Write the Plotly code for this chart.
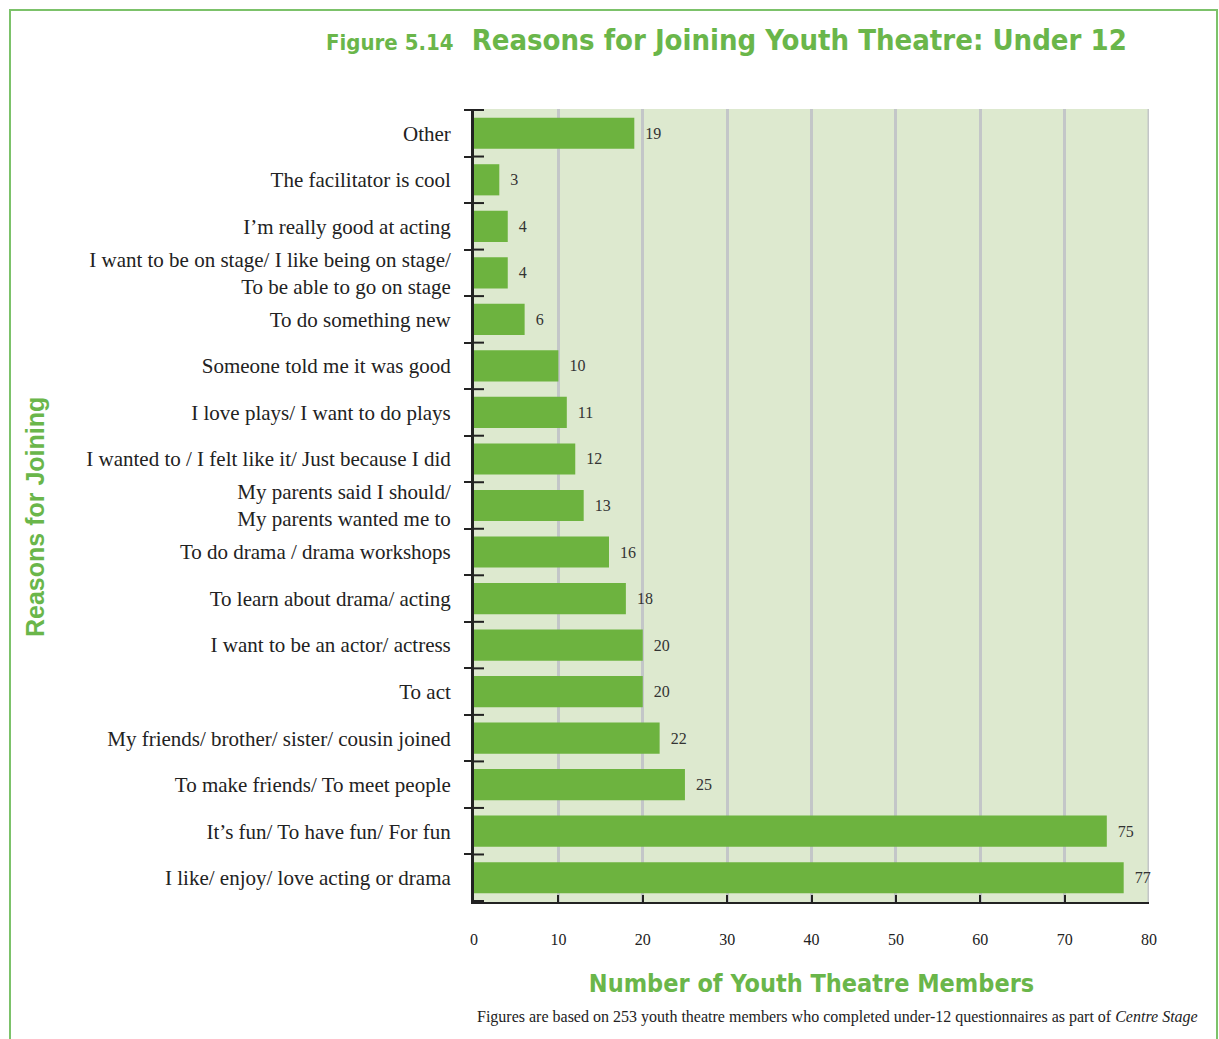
import plotly.graph_objects as go

# Reasons, listed top to bottom as shown on the chart
reasons = [
    "Other",
    "The facilitator is cool",
    "I\u2019m really good at acting",
    "I want to be on stage/ I like being on stage/<br>To be able to go on stage",
    "To do something new",
    "Someone told me it was good",
    "I love plays/ I want to do plays",
    "I wanted to / I felt like it/ Just because I did",
    "My parents said I should/<br>My parents wanted me to",
    "To do drama / drama workshops",
    "To learn about drama/ acting",
    "I want to be an actor/ actress",
    "To act",
    "My friends/ brother/ sister/ cousin joined",
    "To make friends/ To meet people",
    "It\u2019s fun/ To have fun/ For fun",
    "I like/ enjoy/ love acting or drama",
]
members = [19, 3, 4, 4, 6, 10, 11, 12, 13, 16, 18, 20, 20, 22, 25, 75, 77]
x_ticks = [0, 10, 20, 30, 40, 50, 60, 70, 80]

GREEN = "#6db33f"
TITLE_GREEN = "#6ab64a"
SERIF = "Liberation Serif, DejaVu Serif, serif"
NARROW = "Liberation Sans Narrow, DejaVu Sans Condensed, Arial Narrow, sans-serif"

W, H = 1219, 1039
L, R, T, B = 474, 70, 109, 137
pw, ph = W - L - R, H - T - B

def px_x(p):
    return (p - L) / pw

def px_y(p):
    return (H - B - p) / ph

fig = go.Figure(
    go.Bar(
        x=members,
        y=reasons,
        orientation="h",
        marker=dict(color=GREEN, line=dict(width=0)),
        text=[str(v) for v in members],
        texttemplate="  %{text}",
        textposition="outside",
        textfont=dict(family=SERIF, size=16, color="#333333"),
        cliponaxis=False,
        hoverinfo="skip",
    )
)

fig.update_layout(
    width=W,
    height=H,
    margin=dict(l=L, r=R, t=T, b=B, pad=0),
    paper_bgcolor="white",
    plot_bgcolor="#dde9cf",
    bargap=0.33,
    showlegend=False,
    font=dict(family=SERIF, color="#222222"),
)

fig.update_yaxes(
    type="category",
    categoryorder="array",
    categoryarray=reasons,
    autorange="reversed",
    tickfont=dict(family=SERIF, size=21, color="#222222"),
    ticks="outside",
    tickson="boundaries",
    ticklen=7,
    tickwidth=2,
    tickcolor="#222222",
    ticklabelstandoff=16,
    showline=True,
    linecolor="#222222",
    linewidth=3,
    showgrid=False,
    zeroline=False,
)

fig.update_xaxes(
    range=[0, 80],
    tickvals=x_ticks,
    ticktext=[str(v) for v in x_ticks],
    tickfont=dict(family=SERIF, size=16, color="#222222"),
    ticks="inside",
    ticklen=7,
    tickwidth=2,
    tickcolor="#222222",
    ticklabelstandoff=22,
    showline=True,
    linecolor="#222222",
    linewidth=2,
    showgrid=True,
    gridcolor="#c3c6c8",
    gridwidth=3,
    zeroline=False,
    title=dict(
        text="Number of Youth Theatre Members",
        font=dict(family=NARROW, size=25, color=TITLE_GREEN, weight="bold"),
        standoff=27,
    ),
)

# Grid line on the right edge of the plot area
fig.add_shape(
    type="line", xref="x", yref="paper",
    x0=80, x1=80, y0=0, y1=1,
    line=dict(color="#c3c6c8", width=3), layer="below",
)

# Inner half of the category boundary ticks on the y axis
for i in range(len(reasons) + 1):
    fig.add_shape(
        type="line", xref="paper", yref="y",
        x0=0, x1=px_x(L + 10), y0=i - 0.5, y1=i - 0.5,
        line=dict(color="#222222", width=2), layer="above",
    )

# Frame around the figure
fig.add_shape(
    type="path", xref="paper", yref="paper",
    path=f"M {px_x(10)} {px_y(H + 20)} L {px_x(10)} {px_y(10)} L {px_x(1217)} {px_y(10)} L {px_x(1217)} {px_y(H + 20)}",
    line=dict(color="#7cc26a", width=2),
)

fig.add_annotation(
    xref="paper", yref="paper",
    x=px_x(1129), y=px_y(40),
    xanchor="right", yanchor="middle",
    showarrow=False,
    text="<span style='font-size:22px'>Figure 5.14</span>  Reasons for Joining Youth Theatre: Under 12",
    font=dict(family=NARROW, size=29, color=TITLE_GREEN, weight="bold"),
)

fig.add_annotation(
    xref="paper", yref="paper",
    x=px_x(35), y=px_y(517),
    xanchor="center", yanchor="middle",
    textangle=-90,
    showarrow=False,
    text="Reasons for Joining",
    font=dict(family="Liberation Sans, Arial, sans-serif", size=25, color=TITLE_GREEN, weight="bold"),
)

fig.add_annotation(
    xref="paper", yref="paper",
    x=px_x(475), y=px_y(1017),
    xanchor="left", yanchor="middle",
    showarrow=False,
    text="Figures are based on 253 youth theatre members who completed under-12 questionnaires as part of <i>Centre Stage</i>",
    font=dict(family=SERIF, size=16, color="#222222"),
)

fig.write_html("out.html")
